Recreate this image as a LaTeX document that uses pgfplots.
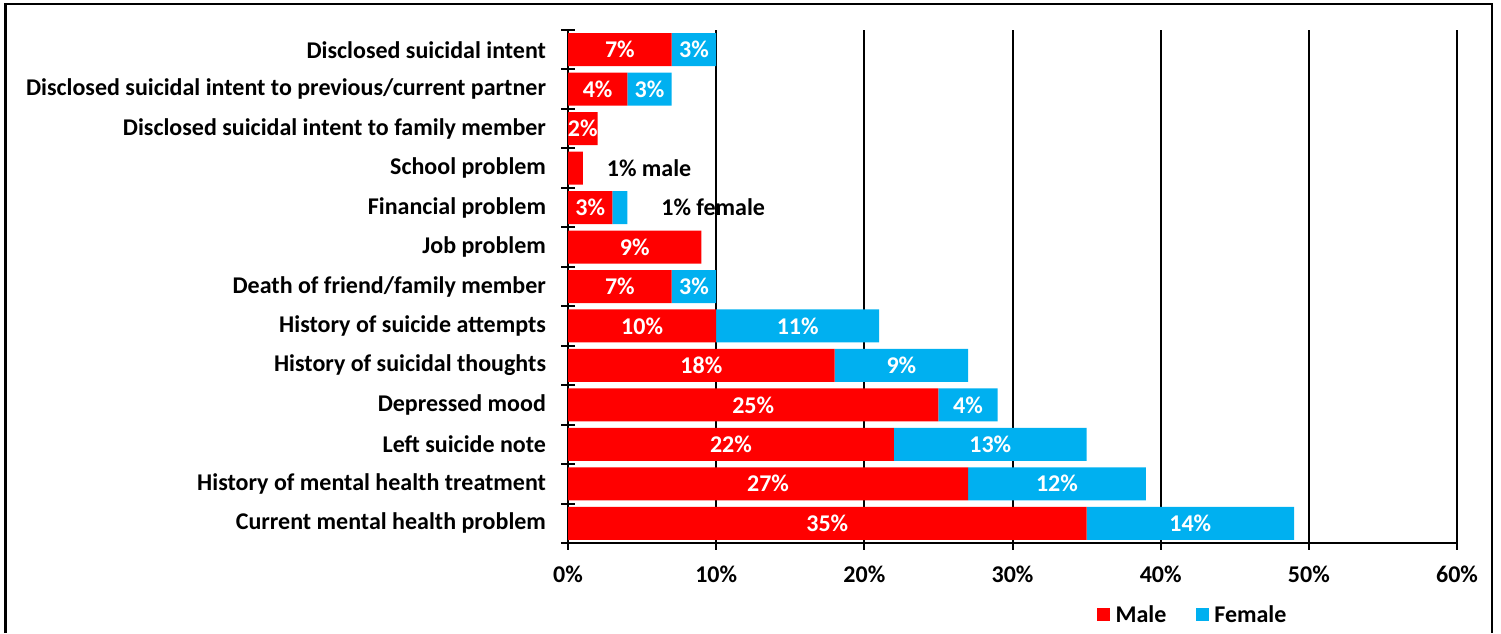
\documentclass[border=0pt]{standalone}
\usepackage{pgfplots}
\pgfplotsset{compat=1.18}
\usepackage{fontspec}
\setmainfont{Carlito}
\definecolor{male}{HTML}{FF0000}
\definecolor{female}{HTML}{00B0F0}
\newcommand{\lbl}{\fontsize{18}{21}\selectfont\bfseries}

\begin{document}
\begin{tikzpicture}
\path[use as bounding box] (0,0) rectangle (1125.75pt,474.75pt);
\draw[line width=1.6pt] (4.1pt,0) -- (4.1pt,472pt) -- (1119pt,472pt) -- (1119pt,0);

\pgfplotsset{
  chartbase/.style={
    at={(426pt,67.5pt)}, anchor=south west,
    width=666.75pt, height=384.75pt, scale only axis,
    xmin=0, xmax=60, ymin=-0.5, ymax=12.5,
  }
}

\begin{axis}[
  chartbase,
  xbar stacked, bar width=24.75pt,
  xtick={0,10,...,60},
  xticklabel={\pgfmathprintnumber{\tick}\%},
  /pgf/number format/assume math mode=true,
  ytick={0,...,12},
  yticklabels={Current mental health problem,
    History of mental health treatment,
    Left suicide note,
    Depressed mood,
    History of suicidal thoughts,
    History of suicide attempts,
    Death of friend/family member,
    Job problem,
    Financial problem,
    School problem,
    Disclosed suicidal intent to family member,
    Disclosed suicidal intent to previous/current partner,
    Disclosed suicidal intent},
  minor ytick={-0.5,0.5,...,12.5},
  tick label style={font=\lbl, black},
  axis x line*=bottom, axis y line*=left,
  axis line style={line width=1.5pt, -},
  xmajorgrids, grid style={black, line width=1.5pt},
  tick align=center,
  major tick length=10pt, minor tick length=10pt,
  major y tick style={draw=none},
  every minor y tick/.style={line width=1.5pt, black},
  every major x tick/.style={line width=1.5pt, black},
  yticklabel style={xshift=-8pt},
  xticklabel style={yshift=-9pt},
  legend style={at={(0.703,-0.14)}, anchor=center, draw=none,
    legend columns=2, font=\lbl,
    /tikz/every odd column/.append style={column sep=2pt},
    /tikz/every even column/.append style={column sep=20pt}},
]
\addplot[fill=male, draw=none,
  legend image code/.code={\fill[male] (0pt,-5pt) rectangle (10pt,5pt);}]
  coordinates {(35,0) (27,1) (22,2) (25,3) (18,4) (10,5) (7,6)
               (9,7) (3,8) (1,9) (2,10) (4,11) (7,12)};
\addlegendentry{Male}
\addplot[fill=female, draw=none,
  legend image code/.code={\fill[female] (0pt,-5pt) rectangle (10pt,5pt);}]
  coordinates {(14,0) (12,1) (13,2) (4,3) (9,4) (11,5) (3,6)
               (0,7) (1,8) (0,9) (0,10) (3,11) (3,12)};
\addlegendentry{Female}
\end{axis}

% labels, centred in each segment
\begin{axis}[chartbase, hide axis]
\addplot[draw=none, nodes near coords, point meta=explicit symbolic,
  nodes near coords align=center,
  every node near coord/.append style={font=\lbl, white, anchor=center}]
  coordinates {(17.5,0) [35\%] (13.5,1) [27\%] (11,2) [22\%] (12.5,3) [25\%]
               (9,4) [18\%] (5,5) [10\%] (3.5,6) [7\%] (4.5,7) [9\%]
               (1.5,8) [3\%] (1,10) [2\%] (2,11) [4\%] (3.5,12) [7\%]};
\addplot[draw=none, nodes near coords, point meta=explicit symbolic,
  nodes near coords align=center,
  every node near coord/.append style={font=\lbl, white, anchor=center}]
  coordinates {(42,0) [14\%] (33,1) [12\%] (28.5,2) [13\%] (27,3) [4\%]
               (22.5,4) [9\%] (15.5,5) [11\%] (8.5,6) [3\%]
               (5.5,11) [3\%] (8.5,12) [3\%]};
\addplot[draw=none, nodes near coords, point meta=explicit symbolic,
  nodes near coords align=center,
  every node near coord/.append style={font=\lbl, black, anchor=center}]
  coordinates {(5.47,9) [1\% male] (9.8,8) [1\% female]};
\end{axis}
\end{tikzpicture}
\end{document}
